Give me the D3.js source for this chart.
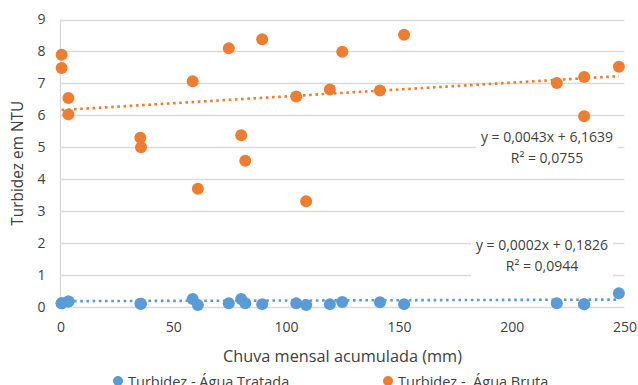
<!DOCTYPE html>
<html>
<head>
<meta charset="utf-8">
<script src="https://cdn.jsdelivr.net/npm/d3@7"></script>
<style>
  body { margin: 0; background: #fff; }
  svg { display: block; font-family: "Open Sans", sans-serif; }
</style>
</head>
<body>
<div id="chart"></div>
<script>
// chuva mensal acumulada (mm), same months for both series
const chuva = [0.5, 0.5, 3.5, 3.5, 35.4, 35.7, 58.6, 60.9, 74.6, 89.4, 80.1, 81.9,
  104.5, 108.9, 119.4, 124.9, 141.6, 152.3, 220, 232.1, 232.1, 247.5];
const aguaBruta = [7.9, 7.48, 6.54, 6.03, 5.3, 5.0, 7.07, 3.7, 8.1, 8.38, 5.38, 4.58,
  6.59, 3.31, 6.81, 7.99, 6.78, 8.52, 7.01, 7.2, 5.97, 7.52];
const aguaTratada = [0.12, 0.12, 0.17, 0.17, 0.1, 0.1, 0.25, 0.06, 0.12, 0.09, 0.25, 0.12,
  0.12, 0.06, 0.09, 0.16, 0.15, 0.09, 0.12, 0.09, 0.09, 0.43];

// trendlines (linear) as reported on the chart
const trendBruta = { slope: 0.0043, intercept: 6.1639, eq: 'y = 0,0043x + 6,1639', r2: 'R² = 0,0755' };
const trendTratada = { slope: 0.0002, intercept: 0.1826, eq: 'y = 0,0002x + 0,1826', r2: 'R² = 0,0944' };

const xTicks = [0, 50, 100, 150, 200, 250];
const yTicks = [0, 1, 2, 3, 4, 5, 6, 7, 8, 9];

const width = 638, height = 385;
const blue = '#5B9BD5', orange = '#ED7D31';

const svg = d3.select('#chart').append('svg')
  .attr('width', width)
  .attr('height', height);

const x = d3.scaleLinear().domain([0, 250]).range([60.5, 624.5]);
const y = d3.scaleLinear().domain([0, 9]).range([307, 19.5]);

// gridlines
svg.append('g')
  .selectAll('line')
  .data(yTicks)
  .join('line')
  .attr('x1', x(0)).attr('x2', x(250))
  .attr('y1', d => Math.round(y(d)) + 0.5)
  .attr('y2', d => Math.round(y(d)) + 0.5)
  .attr('stroke', '#d9d9d9')
  .attr('stroke-width', 1.3);

// left axis line
svg.append('line')
  .attr('x1', x(0)).attr('x2', x(0))
  .attr('y1', y(9)).attr('y2', y(0))
  .attr('stroke', '#d9d9d9')
  .attr('stroke-width', 1.3);

// axes (labels only)
const yAxis = svg.append('g')
  .attr('transform', `translate(${x(0)},0)`)
  .call(d3.axisLeft(y).tickValues(yTicks).tickSize(0).tickPadding(15));
const xAxis = svg.append('g')
  .attr('transform', `translate(0,${y(0)})`)
  .call(d3.axisBottom(x).tickValues(xTicks).tickSize(0).tickPadding(15));
[xAxis, yAxis].forEach(a => {
  a.select('.domain').remove();
  a.selectAll('text')
    .attr('font-family', '"Open Sans", sans-serif')
    .attr('font-size', 14)
    .attr('fill', '#404040');
});

// trendlines
function trend(t, color) {
  const ext = d3.extent(chuva);
  svg.append('line')
    .attr('x1', x(ext[0])).attr('y1', y(t.slope * ext[0] + t.intercept))
    .attr('x2', x(ext[1])).attr('y2', y(t.slope * ext[1] + t.intercept))
    .attr('stroke', color)
    .attr('stroke-width', 2.6)
    .attr('stroke-dasharray', '2.6,3.6');
}
trend(trendTratada, blue);
trend(trendBruta, orange);

// points
function points(vals, color) {
  svg.append('g')
    .selectAll('circle')
    .data(vals)
    .join('circle')
    .attr('cx', (d, i) => x(chuva[i]))
    .attr('cy', d => y(d))
    .attr('r', 6)
    .attr('fill', color);
}
points(aguaTratada, blue);
points(aguaBruta, orange);

// equation labels with white box behind
function eqLabel(t, cx, cy) {
  const g = svg.append('g');
  const box = g.append('rect').attr('fill', '#fff');
  const txt = g.append('text')
    .attr('text-anchor', 'middle')
    .attr('font-size', 14)
    .attr('fill', '#404040');
  txt.append('tspan').attr('x', cx).attr('y', cy).text(t.eq);
  txt.append('tspan').attr('x', cx).attr('y', cy + 21).text(t.r2);
  const b = txt.node().getBBox();
  box.attr('x', b.x - 5).attr('y', b.y - 4)
    .attr('width', b.width + 10).attr('height', b.height + 8);
}
eqLabel(trendBruta, 547, 142);
eqLabel(trendTratada, 542, 250);

// axis titles
svg.append('text')
  .attr('x', (x(0) + x(250)) / 2)
  .attr('y', 362)
  .attr('text-anchor', 'middle')
  .attr('font-size', 16.3)
  .attr('fill', '#404040')
  .text('Chuva mensal acumulada (mm)');

svg.append('text')
  .attr('transform', `translate(23,${(y(0) + y(9)) / 2}) rotate(-90)`)
  .attr('text-anchor', 'middle')
  .attr('font-size', 15.4)
  .attr('fill', '#404040')
  .text('Turbidez em NTU');

// legend (cut at the bottom edge, as in the source)
const legend = [
  { label: 'Turbidez - Água Tratada', color: blue, x: 118 },
  { label: 'Turbidez -  Água Bruta', color: orange, x: 388 }
];
const lg = svg.append('g')
  .selectAll('g')
  .data(legend)
  .join('g')
  .attr('transform', d => `translate(${d.x},381)`);
lg.append('circle').attr('r', 5).attr('fill', d => d.color);
lg.append('text')
  .attr('x', 10)
  .attr('y', 6)
  .attr('font-size', 14.5)
  .attr('fill', '#404040')
  .style('white-space', 'pre')
  .text(d => d.label);
</script>
</body>
</html>
